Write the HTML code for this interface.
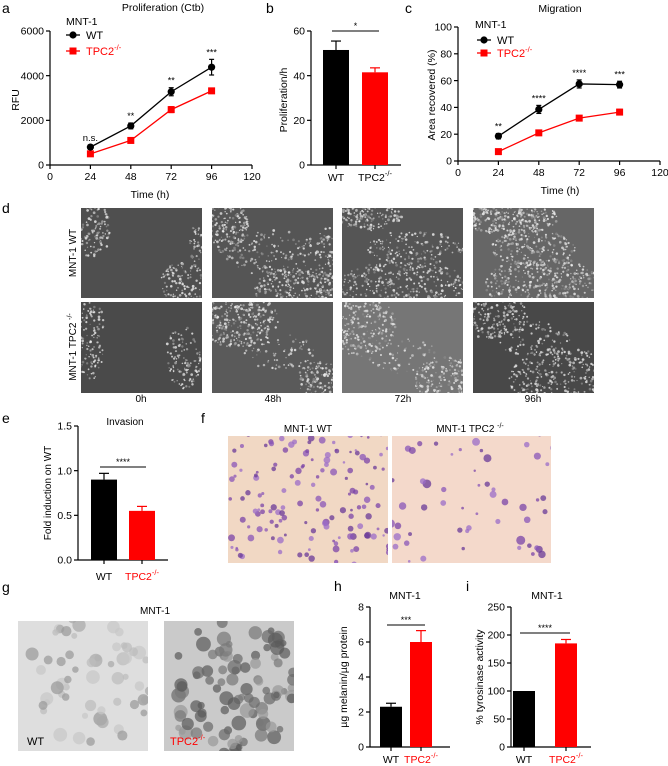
<!DOCTYPE html>
<html><head><meta charset="utf-8"><style>
html,body{margin:0;padding:0;background:#fff;}
svg{display:block;font-family:"Liberation Sans",Arial,sans-serif;}
</style></head><body>
<svg id="fig" width="668" height="766" viewBox="0 0 668 766" xmlns="http://www.w3.org/2000/svg">
<g id="static" font-size="10" fill="#000">
<text x="2" y="13" font-size="14">a</text>
<text x="163" y="11" font-size="10.5" text-anchor="middle">Proliferation (Ctb)</text>
<text x="66" y="25" font-size="10.5">MNT-1</text>
<text x="19" y="100" font-size="10.5" text-anchor="middle" transform="rotate(-90 19 100)">RFU</text>
<text x="150" y="198" font-size="10.5" text-anchor="middle">Time (h)</text>

<text x="266" y="13" font-size="14">b</text>
<text x="287" y="100" font-size="10.5" text-anchor="middle" transform="rotate(-90 287 100)">Proliferation/h</text>

<text x="405" y="13" font-size="14">c</text>
<text x="560" y="12" font-size="10.5" text-anchor="middle">Migration</text>
<text x="475" y="28" font-size="10.5">MNT-1</text>
<text x="435" y="95" font-size="10.5" text-anchor="middle" transform="rotate(-90 435 95)">Area recovered (%)</text>
<text x="560" y="194" font-size="10.5" text-anchor="middle">Time (h)</text>

<text x="2" y="213" font-size="14">d</text>
<text x="76" y="253" font-size="10" text-anchor="middle" transform="rotate(-90 76 253)">MNT-1 WT</text>
<text x="76" y="347" font-size="10" text-anchor="middle" transform="rotate(-90 76 347)">MNT-1 TPC2 <tspan font-size="7" dy="-4">-/-</tspan></text>
<text x="141" y="402" font-size="10" text-anchor="middle">0h</text>
<text x="273" y="402" font-size="10" text-anchor="middle">48h</text>
<text x="403" y="402" font-size="10" text-anchor="middle">72h</text>
<text x="533" y="402" font-size="10" text-anchor="middle">96h</text>

<text x="2" y="423" font-size="14">e</text>
<text x="125" y="425" font-size="10" text-anchor="middle">Invasion</text>
<text x="51" y="493" font-size="10" text-anchor="middle" transform="rotate(-90 51 493)">Fold induction on WT</text>

<text x="201" y="423" font-size="14">f</text>
<text x="308" y="432" font-size="10" text-anchor="middle">MNT-1 WT</text>
<text x="470" y="432" font-size="10" text-anchor="middle">MNT-1 TPC2 <tspan font-size="7" dy="-4">-/-</tspan></text>

<text x="2" y="592" font-size="14">g</text>
<text x="155" y="614" font-size="10" text-anchor="middle">MNT-1</text>

<text x="334" y="591" font-size="14">h</text>
<text x="405" y="599" font-size="10.5" text-anchor="middle">MNT-1</text>
<text x="347" y="677" font-size="10.5" text-anchor="middle" transform="rotate(-90 347 677)">µg melanin/µg protein</text>

<text x="466" y="591" font-size="14">i</text>
<text x="547" y="599" font-size="10.5" text-anchor="middle">MNT-1</text>
<text x="483" y="677" font-size="10.5" text-anchor="middle" transform="rotate(-90 483 677)">% tyrosinase activity</text>
</g>
<g id="dyn"></g>
</svg>
<script>
// ---- Panel a data ----
const timeCats = [24, 48, 72, 96];
const profWT = [800, 1750, 3280, 4380];
const profWTerr = [100, 130, 180, 350];
const profKO = [500, 1100, 2480, 3320];
const profKOerr = [60, 60, 130, 100];
const profStars = ["n.s.", "**", "**", "***"];
const profYTicks = [0, 2000, 4000, 6000];
const timeTicks = [0, 24, 48, 72, 96, 120];
// ---- Panel b ----
const barCats = ["WT", "TPC2"];
const rateVals = [51.5, 41.5];
const rateErr = [4, 2];
const rateTicks = [0, 20, 40, 60];
// ---- Panel c ----
const migWT = [18.5, 38.5, 57.5, 57];
const migWTerr = [2, 3, 3, 2.5];
const migKO = [7, 21, 32, 36.5];
const migKOerr = [1, 1, 1, 2];
const migStars = ["**", "****", "****", "***"];
const migTicks = [0, 20, 40, 60, 80, 100];
// ---- Panel e ----
const invVals = [0.9, 0.55];
const invErr = [0.07, 0.05];
const invTicks = ["0.0", "0.5", "1.0", "1.5"];
// ---- Panel h ----
const melVals = [2.3, 6.0];
const melErr = [0.2, 0.65];
const melTicks = [0, 2, 4, 6, 8];
// ---- Panel i ----
const tyrVals = [100, 185];
const tyrErr = [0, 7];
const tyrTicks = [0, 50, 100, 150, 200, 250];

const NS = "http://www.w3.org/2000/svg";
const root = document.getElementById("dyn");
function mk(tag, attrs, parent) {
  const e = document.createElementNS(NS, tag);
  for (const k in attrs) e.setAttribute(k, attrs[k]);
  (parent || root).appendChild(e);
  return e;
}
function lin(d0, d1, r0, r1) { return v => r0 + (v - d0) / (d1 - d0) * (r1 - r0); }

function yAxis(g, x, y, ticks, yTop, yBot) {
  const l = mk("line", {x1: x, y1: yTop, x2: x, y2: yBot, stroke: "#000", "stroke-width": 1.2}, g);
  
  
  ticks.forEach(t => {
    const v = parseFloat(t);
    mk("line", {x1: x - 4, y1: y(v), x2: x, y2: y(v), stroke: "#000", "stroke-width": 1.2}, g);
    const tx = mk("text", {x: x - 6, y: y(v) + 3.7, "font-size": 10.5, "text-anchor": "end"}, g);
    tx.textContent = t;
    
    
  });
}
function lineChart(name, xs, ys, wt, wte, ko, koe, stars, yTicks, yTop) {
  const g = mk("g", {});
  
  
  const yb = ys(0);
  yAxis(g, xs(0), ys, yTicks, yTop, yb);
  mk("line", {x1: xs(0), y1: yb, x2: xs(120), y2: yb, stroke: "#000", "stroke-width": 1.2}, g);
  timeTicks.forEach(t => {
    mk("line", {x1: xs(t), y1: yb, x2: xs(t), y2: yb + 4, stroke: "#000", "stroke-width": 1.2}, g);
    const tx = mk("text", {x: xs(t), y: yb + 15, "font-size": 10.5, "text-anchor": "middle"}, g);
    tx.textContent = t;
    
    
  });
  [[ko, koe, "#f00", "sq"], [wt, wte, "#000", "ci"]].forEach(([vals, errs, col, shp]) => {
    const pts = vals.map((v, i) => xs(timeCats[i]) + "," + ys(v)).join(" ");
    const pl = mk("polyline", {points: pts, fill: "none", stroke: col, "stroke-width": 1.3}, g);
    
    
    vals.forEach((v, i) => {
      const cx = xs(timeCats[i]);
      const e1 = ys(v + errs[i]), e2 = ys(v - errs[i]);
      mk("line", {x1: cx, y1: e1, x2: cx, y2: e2, stroke: col, "stroke-width": 1.2}, g);
      mk("line", {x1: cx - 2.5, y1: e1, x2: cx + 2.5, y2: e1, stroke: col, "stroke-width": 1.2}, g);
      mk("line", {x1: cx - 2.5, y1: e2, x2: cx + 2.5, y2: e2, stroke: col, "stroke-width": 1.2}, g);
      let m;
      if (shp === "ci") m = mk("circle", {cx: cx, cy: ys(v), r: 3.6, fill: col}, g);
      else m = mk("rect", {x: cx - 3.5, y: ys(v) - 3.5, width: 7, height: 7, fill: col}, g);
      
      
    });
  });
  wt.forEach((v, i) => {
    const s = mk("text", {x: xs(timeCats[i]), y: ys(v + wte[i]) - 4, "font-size": stars[i] === "n.s." ? 9.5 : 9, "text-anchor": "middle"}, g);
    s.textContent = stars[i];
    
    
  });
  return g;
}
function legend(x, y1, y2) {
  const g = mk("g", {});
  
  
  mk("line", {x1: x - 7, y1: y1, x2: x + 7, y2: y1, stroke: "#000", "stroke-width": 1.3}, g);
  mk("circle", {cx: x, cy: y1, r: 3.6, fill: "#000"}, g);
  const t1 = mk("text", {x: x + 13, y: y1 + 4, "font-size": 11}, g);
  t1.textContent = "WT";
  
  
  mk("line", {x1: x - 7, y1: y2, x2: x + 7, y2: y2, stroke: "#f00", "stroke-width": 1.3}, g);
  mk("rect", {x: x - 3.5, y: y2 - 3.5, width: 7, height: 7, fill: "#f00"}, g);
  const t2 = mk("text", {x: x + 13, y: y2 + 4, "font-size": 11, fill: "#f00"}, g);
  t2.innerHTML = 'TPC2<tspan font-size="7.5" dy="-5">-/-</tspan>';
  
  
}
// Panel a
lineChart("chart-proliferation", lin(0, 120, 50, 252), lin(0, 6000, 165, 31), profWT, profWTerr, profKO, profKOerr, profStars, profYTicks, 31);
legend(73, 35, 51);
// Panel c
lineChart("chart-migration", lin(0, 120, 458, 660), lin(0, 100, 161, 27), migWT, migWTerr, migKO, migKOerr, migStars, migTicks, 27);
legend(484, 40, 53);

function barChart(name, axisX, axisEnd, ys, yTop, ticks, vals, errs, barX, barW, sigTxt, sigY, redLabel, lblY) {
  const g = mk("g", {});
  
  
  const yb = ys(0);
  yAxis(g, axisX, ys, ticks, yTop, yb);
  mk("line", {x1: axisX, y1: yb, x2: axisEnd, y2: yb, stroke: "#000", "stroke-width": 1.2}, g);
  vals.forEach((v, i) => {
    const col = i === 0 ? "#000" : "#f00";
    const cx = barX[i] + barW / 2;
    const et = ys(v + errs[i]);
    if (errs[i] > 0) {
      mk("line", {x1: cx, y1: et, x2: cx, y2: ys(v), stroke: col, "stroke-width": 1.2}, g);
      mk("line", {x1: cx - 5, y1: et, x2: cx + 5, y2: et, stroke: col, "stroke-width": 1.2}, g);
    }
    const r = mk("rect", {x: barX[i], y: ys(v), width: barW, height: yb - ys(v), fill: col}, g);
    
    
    mk("line", {x1: cx, y1: yb, x2: cx, y2: yb + 4, stroke: "#000", "stroke-width": 1.2}, g);
    const t = mk("text", {x: cx, y: lblY, "font-size": 10.5, "text-anchor": "middle", fill: (i === 1 && redLabel) ? "#f00" : "#000"}, g);
    t.innerHTML = i === 0 ? "WT" : 'TPC2<tspan font-size="7.5" dy="-5">-/-</tspan>';
    
    
  });
  const x1 = barX[0] + barW / 2 - 4, x2 = barX[1] + barW / 2 + 4;
  mk("line", {x1: x1, y1: sigY, x2: x2, y2: sigY, stroke: "#000", "stroke-width": 1}, g);
  const s = mk("text", {x: (x1 + x2) / 2, y: sigY - 2, "font-size": 9, "text-anchor": "middle"}, g);
  s.textContent = sigTxt;
  
  
}
barChart("chart-proliferation-rate", 311, 401, lin(0, 60, 165, 31), 31, rateTicks, rateVals, rateErr, [323, 362], 26, "*", 31, false, 181);
barChart("chart-invasion", 78, 168, lin(0, 1.5, 560, 426), 426, invTicks, invVals, invErr, [91, 129], 26, "****", 467, true, 580);
barChart("chart-melanin", 370, 450, lin(0, 8, 747, 607), 607, melTicks, melVals, melErr, [380, 410], 22, "***", 625, true, 763);
barChart("chart-tyrosinase", 511, 591, lin(0, 250, 747, 607), 607, tyrTicks, tyrVals, tyrErr, [513, 555], 22, "****", 633, true, 763);

// ---- microscopy images (decorative texture) ----
let seed = 7;
function rnd() { seed = (seed * 16807) % 2147483647; return seed / 2147483647; }
function imagePanel(name, x, y, w, h, bg, blobs, dotCol, n, rmin, rmax, op) {
  const g = mk("g", {});
  
  
  mk("rect", {x: x, y: y, width: w, height: h, fill: bg}, g);
  const cp = "c" + Math.floor(rnd() * 1e9);
  const c = mk("clipPath", {id: cp}, g);
  mk("rect", {x: x, y: y, width: w, height: h}, c);
  const gg = mk("g", {"clip-path": "url(#" + cp + ")"}, g);
  blobs.forEach(b => {
    for (let k = 0; k < n * b[4]; k++) {
      const a = rnd() * 6.283, rr = Math.sqrt(rnd());
      const px = x + w * (b[0] + Math.cos(a) * rr * b[2]);
      const py = y + h * (b[1] + Math.sin(a) * rr * b[3]);
      const col = dotCol[Math.floor(rnd() * dotCol.length)];
      mk("circle", {cx: px, cy: py, r: rmin + rnd() * (rmax - rmin), fill: col, opacity: op || 0.8}, gg);
    }
  });
}
const phase = ["#e0e0e0", "#a8a8a8", "#f0f0f0", "#888", "#c8c8c8"];
// d row 1 (WT)
imagePanel("image-d-wt-0h", 81, 208, 121, 90, "#4f4f4f", [[0.1, 0.25, 0.15, 0.3, 1], [0.85, 0.85, 0.2, 0.25, 1.2], [0.95, 0.4, 0.06, 0.2, 0.3]], phase, 110, 0.6, 1.4);
imagePanel("image-d-wt-48h", 212, 208, 121, 90, "#555", [[0.1, 0.2, 0.2, 0.3, 1.2], [0.7, 0.9, 0.35, 0.25, 1.5], [0.5, 0.5, 0.4, 0.25, 0.8], [0.95, 0.6, 0.1, 0.4, 0.6]], phase, 170, 0.6, 1.4);
imagePanel("image-d-wt-72h", 342, 208, 121, 90, "#555", [[0.2, 0.1, 0.3, 0.15, 1], [0.5, 0.85, 0.55, 0.25, 2], [0.6, 0.45, 0.4, 0.2, 0.9]], phase, 170, 0.6, 1.4);
imagePanel("image-d-wt-96h", 473, 208, 121, 90, "#666", [[0.3, 0.1, 0.4, 0.2, 1.8], [0.6, 0.85, 0.5, 0.3, 2.2], [0.5, 0.45, 0.35, 0.2, 1]], phase, 190, 0.6, 1.4);
// d row 2 (TPC2)
imagePanel("image-d-tpc2-0h", 81, 302, 121, 91, "#4a4a4a", [[0.08, 0.4, 0.12, 0.45, 1.2], [0.85, 0.6, 0.15, 0.35, 1.1]], phase, 110, 0.6, 1.4);
imagePanel("image-d-tpc2-48h", 212, 302, 121, 91, "#5a5a5a", [[0.2, 0.2, 0.35, 0.3, 2], [0.9, 0.85, 0.2, 0.2, 0.8], [0.55, 0.55, 0.3, 0.2, 0.4]], phase, 170, 0.6, 1.4);
imagePanel("image-d-tpc2-72h", 342, 302, 121, 91, "#767676", [[0.15, 0.25, 0.3, 0.35, 1.8], [0.85, 0.85, 0.25, 0.25, 1.2], [0.5, 0.6, 0.3, 0.2, 0.4]], phase, 170, 0.6, 1.4);
imagePanel("image-d-tpc2-96h", 473, 302, 121, 91, "#484848", [[0.15, 0.15, 0.3, 0.25, 1.2], [0.75, 0.85, 0.45, 0.35, 2.2], [0.5, 0.4, 0.3, 0.2, 0.5]], phase, 170, 0.6, 1.4);
// f
const purple = ["#8a55b8", "#7b44a8", "#9b6cc8", "#6a3a98"];
imagePanel("image-f-wt", 228, 436, 160, 127, "#f1d8c4", [[0.5, 0.5, 0.7, 0.7, 1]], purple, 200, 1.2, 3.5, 0.75);
imagePanel("image-f-tpc2", 392, 436, 159, 127, "#f4d9cb", [[0.5, 0.5, 0.7, 0.7, 1]], purple, 80, 1.2, 4.5, 0.75);
// g
const grays = ["#a8a8a8", "#bcbcbc", "#999", "#c8c8c8"];
imagePanel("image-g-wt", 18, 621, 130, 130, "#dedede", [[0.55, 0.45, 0.5, 0.55, 1]], grays, 60, 3, 7, 0.7);
imagePanel("image-g-tpc2", 164, 621, 130, 130, "#cacaca", [[0.55, 0.5, 0.55, 0.55, 1]], ["#5a5a5a", "#777", "#6a6a6a", "#999"], 100, 3, 7.5, 0.7);
const gw = mk("text", {x: 27, y: 745, "font-size": 11, fill: "#000"});
gw.textContent = "WT";


const gk = mk("text", {x: 170, y: 745, "font-size": 11, fill: "#f00"});
gk.innerHTML = 'TPC2<tspan font-size="7.5" dy="-5">-/-</tspan>';


</script>
</body></html>
